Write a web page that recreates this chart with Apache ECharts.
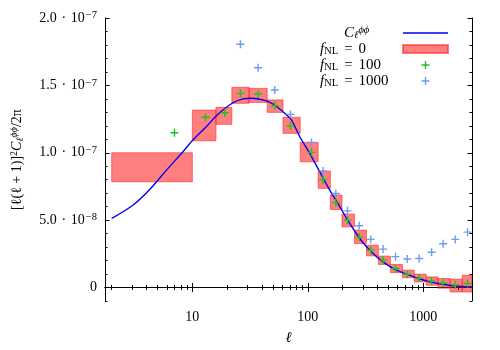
<!DOCTYPE html>
<html><head><meta charset="utf-8">
<script src="https://cdn.jsdelivr.net/npm/echarts@6/dist/echarts.min.js"></script>
<style>html,body{margin:0;padding:0;background:#fff}#c{width:500px;height:350px}</style>
</head><body><div id="c"></div>
<script>
// Theory curve C_l^{phiphi}
const curveL = [2, 3.05, 4.27, 5.96, 8.29, 10.1, 13.2, 16.4, 22.5, 27.5, 32.7, 40.9, 50, 61.1, 72.3, 85.3, 104, 127, 155, 190, 217, 282, 357, 450, 569, 718, 905, 1143, 1445, 1821, 2650];
const curveV = [5.13e-8, 6.11e-8, 7.28e-8, 8.71e-8, 10.07e-8, 10.94e-8, 11.93e-8, 12.80e-8, 13.71e-8, 14.00e-8, 14.04e-8, 13.92e-8, 13.62e-8, 13.04e-8, 12.42e-8, 11.19e-8, 9.96e-8, 8.59e-8, 7.23e-8, 5.99e-8, 5.13e-8, 3.64e-8, 2.64e-8, 1.90e-8, 1.34e-8, 0.99e-8, 0.67e-8, 0.42e-8, 0.25e-8, 0.12e-8, 0.04e-8];
// f_NL = 0 boxes (bin edges in l, lower/upper values)
const binLo = [2, 10, 16, 22, 31, 44.5, 61, 86, 123, 157, 198, 254, 323, 409, 520, 661, 836, 1063, 1345, 1715, 2180];
const binHi = [10, 16, 22, 31, 44.5, 61, 86, 123, 157, 198, 254, 323, 409, 520, 661, 836, 1063, 1345, 1715, 2180, 2780];
const boxLo = [7.85e-8, 10.89e-8, 12.11e-8, 13.67e-8, 13.74e-8, 13.00e-8, 11.44e-8, 9.33e-8, 7.36e-8, 5.79e-8, 4.50e-8, 3.27e-8, 2.35e-8, 1.71e-8, 1.11e-8, 0.73e-8, 0.42e-8, 0.17e-8, -0.05e-8, -0.33e-8, -0.33e-8];
const boxHi = [10.00e-8, 13.17e-8, 13.37e-8, 14.86e-8, 14.78e-8, 13.92e-8, 12.63e-8, 10.77e-8, 8.64e-8, 6.86e-8, 5.45e-8, 4.26e-8, 3.14e-8, 2.33e-8, 1.71e-8, 1.29e-8, 0.99e-8, 0.79e-8, 0.67e-8, 0.62e-8, 0.91e-8];
// f_NL = 100 points
const f100L = [7, 13, 19.1, 26.1, 37.1, 51.8, 70.8, 107.7, 135.9, 175, 221, 279, 351.6, 449.6, 576, 727, 923, 1183, 1489, 1898, 2425];
const f100V = [11.49e-8, 12.63e-8, 12.97e-8, 14.41e-8, 14.36e-8, 13.49e-8, 11.98e-8, 10.03e-8, 8.00e-8, 6.30e-8, 5.00e-8, 3.74e-8, 2.77e-8, 2.03e-8, 1.41e-8, 0.98e-8, 0.70e-8, 0.49e-8, 0.34e-8, 0.20e-8, 0.30e-8];
// f_NL = 1000 points (low-l points lie above the plotted range)
const f1000L = [26.1, 37.1, 51.8, 70.8, 107.7, 135.9, 175, 221, 279, 351.6, 449.6, 576, 727, 923, 1183, 1489, 1898, 2425];
const f1000V = [18.05e-8, 16.31e-8, 14.66e-8, 12.85e-8, 10.77e-8, 8.64e-8, 6.98e-8, 5.69e-8, 4.58e-8, 3.57e-8, 2.85e-8, 2.29e-8, 2.12e-8, 2.15e-8, 2.62e-8, 3.25e-8, 3.57e-8, 4.11e-8];
// axes ticks
const xMajor = [10, 100, 1000];
const xMajorText = ['10', '100', '1000'];
const xMinor = [2, 3, 4, 5, 6, 7, 8, 9, 20, 30, 40, 50, 60, 70, 80, 90, 200, 300, 400, 500, 600, 700, 800, 900, 2000];
const yMajor = [0, 5e-8, 1e-7, 1.5e-7, 2e-7];
const yMajorText = ['{n|0}', '{n|5.0\u2004·\u200410}{s|−8}', '{n|1.0\u2004·\u200410}{s|−7}', '{n|1.5\u2004·\u200410}{s|−7}', '{n|2.0\u2004·\u200410}{s|−7}'];
const yMinor = [-1e-8, 1e-8, 2e-8, 3e-8, 4e-8, 6e-8, 7e-8, 8e-8, 9e-8, 1.1e-7, 1.2e-7, 1.3e-7, 1.4e-7, 1.6e-7, 1.7e-7, 1.8e-7, 1.9e-7];
const legendTexts = {
  'Cl': '{c|C}{cl|ℓ}{cp|ϕϕ}',
  'f0': '{f|f}{sub|NL}{e|=}{t|0}',
  'f100': '{f|f}{sub|NL}{e|=}{t|100}',
  'f1000': '{f|f}{sub|NL}{e|=}{t|1000}'
};

const FONT = 'Liberation Serif';
const plus = 'path://M0,3.3H8V4.7H0Z M3.3,0H4.7V8H3.3Z';
const chart = echarts.init(document.getElementById('c'), null, {renderer: 'canvas'});

function xAx(pos, major, showLine, showLabel) {
  return {
    type: 'log', logBase: 10, min: 1.75, max: 2650, position: pos,
    splitLine: {show: false}, minorTick: {show: false}, minorSplitLine: {show: false},
    axisLine: {show: showLine, lineStyle: {color: '#000', width: 1}},
    axisTick: {show: true, inside: true, length: major ? 4.5 : 2.5, customValues: major ? xMajor : xMinor, lineStyle: {color: '#000', width: 1}},
    axisLabel: {
      show: showLabel, customValues: xMajor, fontFamily: FONT, fontSize: 14, color: '#000', margin: 9,
      formatter: function (v) {
        for (let i = 0; i < xMajor.length; i++) if (Math.abs(v - xMajor[i]) < 1e-6) return xMajorText[i];
        return '';
      }
    },
    name: showLabel ? 'ℓ' : '', nameLocation: 'middle', nameGap: 30,
    nameTextStyle: {fontFamily: FONT, fontSize: 15, fontStyle: 'italic', color: '#000'}
  };
}
function yAx(pos, major, showLine, showLabel) {
  return {
    type: 'value', min: -1e-8, max: 2e-7, position: pos,
    splitLine: {show: false}, minorTick: {show: false},
    axisLine: {show: showLine, onZero: false, lineStyle: {color: '#000', width: 1}},
    axisTick: {show: true, inside: true, length: major ? 4.5 : 2.5, customValues: major ? yMajor : yMinor, lineStyle: {color: '#000', width: 1}},
    axisLabel: {
      show: showLabel, customValues: yMajor, margin: 8, color: '#000', fontFamily: FONT, fontSize: 14,
      formatter: function (v) {
        for (let i = 0; i < yMajor.length; i++) if (Math.abs(v - yMajor[i]) < 1e-12) return yMajorText[i];
        return '';
      },
      rich: {
        n: {fontFamily: FONT, fontSize: 14, color: '#000', lineHeight: 16},
        s: {fontFamily: FONT, fontSize: 10.5, color: '#000', verticalAlign: 'top', lineHeight: 8, padding: [0, 0, 0, 1]}
      }
    },
    name: showLabel ? '{a|[ℓ(ℓ + 1)]}{s|2}{c|C}{l|ℓ}{p|ϕϕ}{a|/2π}' : '',
    nameLocation: 'middle', nameRotate: 90, nameGap: 80,
    nameTextStyle: {
      color: '#000', fontFamily: FONT, fontSize: 14,
      rich: {
        a: {fontFamily: FONT, fontSize: 14, color: '#000', lineHeight: 16},
        c: {fontFamily: FONT, fontSize: 14, fontStyle: 'italic', color: '#000', lineHeight: 16},
        s: {fontFamily: FONT, fontSize: 10, color: '#000', verticalAlign: 'top', lineHeight: 8},
        l: {fontFamily: FONT, fontSize: 10, fontStyle: 'italic', color: '#000', verticalAlign: 'bottom', lineHeight: 4},
        p: {fontFamily: FONT, fontSize: 10, fontStyle: 'italic', color: '#000', verticalAlign: 'top', lineHeight: 6}
      }
    }
  };
}

const option = {
  animation: false,
  backgroundColor: '#fff',
  grid: {left: 105, right: 28, top: 18, bottom: 49, containLabel: false, outerBoundsMode: 'none'},
  xAxis: [xAx('bottom', true, true, true), xAx('bottom', false, false, false), xAx('top', true, true, false), xAx('top', false, false, false)],
  yAxis: [yAx('left', true, true, true), yAx('left', false, false, false), yAx('right', true, true, false), yAx('right', false, false, false)],
  legend: {
    orient: 'vertical', right: 51, top: 25, padding: 0, itemWidth: 45, itemHeight: 8, itemGap: 0.5, align: 'right',
    data: [{name: 'Cl', icon: 'path://M0,0H100V3H0Z'}, {name: 'f0', icon: 'rect'}, {name: 'f100'}, {name: 'f1000'}],
    selectedMode: false,
    formatter: function (name) { return legendTexts[name]; },
    textStyle: {
      width: 78, color: '#000', fontFamily: FONT, fontSize: 15,
      rich: {
        c: {fontFamily: FONT, fontSize: 15, fontStyle: 'italic', color: '#000', lineHeight: 16, align: 'left', padding: [0, 0, 0, 24]},
        cl: {fontFamily: FONT, fontSize: 10.5, fontStyle: 'italic', color: '#000', verticalAlign: 'bottom', lineHeight: 3, align: 'left'},
        cp: {fontFamily: FONT, fontSize: 10.5, fontStyle: 'italic', color: '#000', verticalAlign: 'top', lineHeight: 5, align: 'left'},
        f: {fontFamily: FONT, fontSize: 15, fontStyle: 'italic', color: '#000', lineHeight: 16, align: 'left'},
        sub: {fontFamily: FONT, fontSize: 10.5, color: '#000', verticalAlign: 'bottom', lineHeight: 4, align: 'left'},
        e: {fontFamily: FONT, fontSize: 15, color: '#000', lineHeight: 16, align: 'left', padding: [0, 6, 0, 6]},
        t: {fontFamily: FONT, fontSize: 15, color: '#000', lineHeight: 16, align: 'left'}
      }
    }
  },
  series: [
    {
      name: 'f0', type: 'custom', xAxisIndex: 0, yAxisIndex: 0, clip: true, z: 2,
      itemStyle: {color: 'rgba(255,0,0,0.5)', borderColor: 'rgba(255,40,40,0.6)', borderWidth: 1},
      encode: {x: [0, 1], y: [2, 3]},
      data: binLo.map((l, i) => [l, binHi[i], boxLo[i], boxHi[i]]),
      renderItem: function (params, api) {
        const p0 = api.coord([api.value(0), api.value(3)]);
        const p1 = api.coord([api.value(1), api.value(2)]);
        const cs = params.coordSys;
        return {
          type: 'rect',
          shape: echarts.graphic.clipRectByRect({x: p0[0], y: p0[1], width: p1[0] - p0[0], height: p1[1] - p0[1]}, {x: cs.x, y: cs.y, width: cs.width, height: cs.height}),
          style: {fill: 'rgba(255,0,0,0.5)', stroke: 'rgba(255,40,40,0.6)', lineWidth: 1}
        };
      }
    },
    {
      name: 'Cl', type: 'line', xAxisIndex: 0, yAxisIndex: 0, z: 3, symbol: 'none', smooth: 0.3, clip: true,
      lineStyle: {color: '#0000ee', width: 1.4}, itemStyle: {color: '#0000ee'},
      data: curveL.map((l, i) => [l, curveV[i]])
    },
    {
      name: 'f100', type: 'scatter', xAxisIndex: 0, yAxisIndex: 0, z: 4, symbol: plus, symbolSize: 8, symbolKeepAspect: true,
      itemStyle: {color: '#22c022', opacity: 1},
      data: f100L.map((l, i) => [l, f100V[i]])
    },
    {
      name: 'f1000', type: 'scatter', xAxisIndex: 0, yAxisIndex: 0, z: 4, symbol: plus, symbolSize: 8, symbolKeepAspect: true,
      itemStyle: {color: '#6c9cf0', opacity: 1},
      data: f1000L.map((l, i) => [l, f1000V[i]])
    }
  ]
};
chart.setOption(option);
</script></body></html>
